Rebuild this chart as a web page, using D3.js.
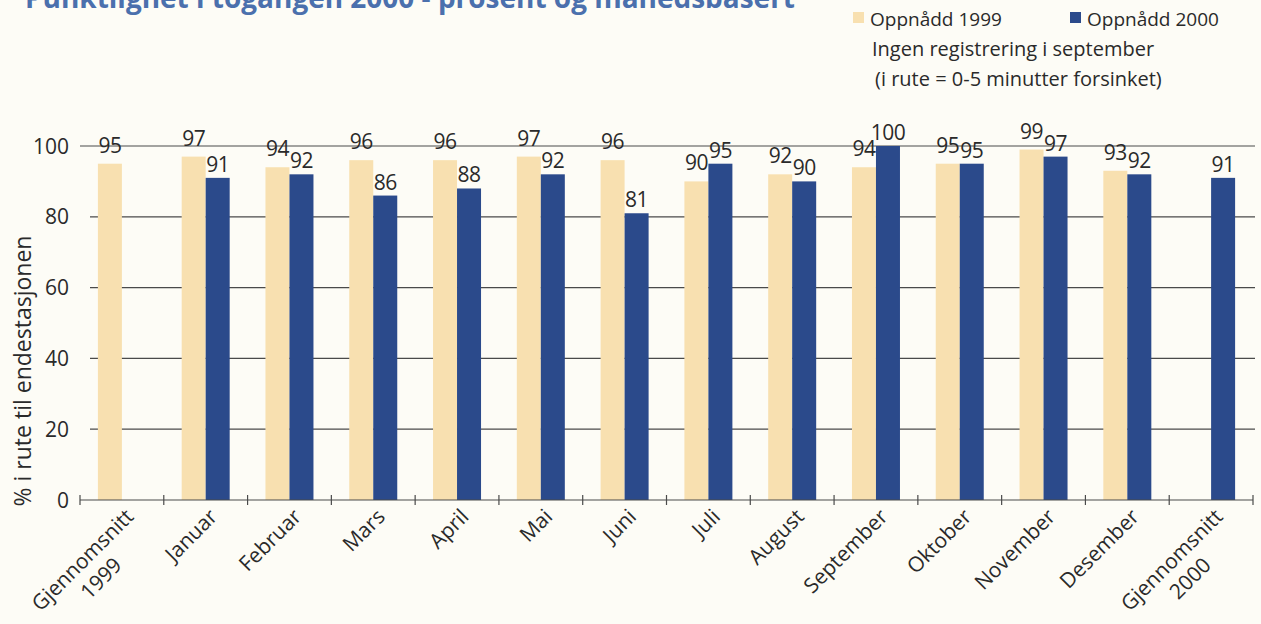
<!DOCTYPE html>
<html>
<head>
<meta charset="utf-8">
<script src="https://cdn.jsdelivr.net/npm/d3@7"></script>
<style>
  html, body { margin: 0; padding: 0; background: #fdfcf6; }
  svg { display: block; }
  text { font-family: "Open Sans", "Noto Sans", sans-serif; fill: #2a2a2a; }
</style>
</head>
<body>
<svg id="chart" width="1261" height="624"></svg>
<script>
// Punctuality per month, 1999 vs 2000 (share of trains on time at the terminal)
const categories = [
  "Gjennomsnitt\n1999", "Januar", "Februar", "Mars", "April", "Mai", "Juni",
  "Juli", "August", "September", "Oktober", "November", "Desember", "Gjennomsnitt\n2000"
];
const values1999 = [95, 97, 94, 96, 96, 97, 96, 90, 92, 94, 95, 99, 93, null];
const values2000 = [null, 91, 92, 86, 88, 92, 81, 95, 90, 100, 95, 97, 92, 91];
const yTicks = [0, 20, 40, 60, 80, 100];
const seriesNames = ["Oppnådd 1999", "Oppnådd 2000"];
const title = "Punktlighet i togangen 2000 - prosent og månedsbasert";
const yTitle = "% i rute til endestasjonen";
const noteLines = ["Ingen registrering i september", "(i rute = 0-5 minutter forsinket)"];

const colors = ["#f8e0b0", "#2b4a8b"];

const svg = d3.select("#chart");

const x = d3.scaleBand().domain(categories).range([80, 1253]).padding(0);
const y = d3.scaleLinear().domain([0, 100]).range([500, 146]);
const barW = 24;

// Title (runs off the top edge)
svg.append("text")
  .attr("x", 25).attr("y", 8)
  .attr("textLength", 770).attr("lengthAdjust", "spacingAndGlyphs")
  .style("font-size", "28px").style("font-weight", "700")
  .style("fill", "#4b70ad")
  .text(title);

// Gridlines
svg.append("g").selectAll("line")
  .data(yTicks.filter(t => t > 0))
  .join("line")
  .attr("x1", d => d === 100 ? 80 : 90)
  .attr("x2", 1255)
  .attr("y1", d => y(d)).attr("y2", d => y(d))
  .attr("stroke", "#4a4a4a").attr("stroke-width", 1.2);

// Y tick labels
svg.append("g").selectAll("text")
  .data(yTicks)
  .join("text")
  .attr("x", 69).attr("y", d => y(d))
  .attr("dy", "0.36em")
  .attr("text-anchor", "end")
  .style("font-size", "21px")
  .text(d => d);

// Y axis title
svg.append("text")
  .attr("transform", `translate(31, 371) rotate(-90)`)
  .attr("text-anchor", "middle")
  .style("font-size", "23px")
  .text(yTitle);

// Bars
const rows = categories.map((c, i) => ({ c, v: [values1999[i], values2000[i]] }));
const barData = [];
rows.forEach(r => r.v.forEach((v, s) => { if (v != null) barData.push({ c: r.c, s, v }); }));
const cx = c => x(c) + x.bandwidth() / 2;
const barX = d => d.s === 0 ? cx(d.c) - barW : cx(d.c);

svg.append("g").selectAll("rect")
  .data(barData)
  .join("rect")
  .attr("x", barX)
  .attr("y", d => y(d.v))
  .attr("width", barW)
  .attr("height", d => y(0) - y(d.v))
  .attr("fill", d => colors[d.s]);

// Value labels
svg.append("g").selectAll("text")
  .data(barData)
  .join("text")
  .attr("x", d => barX(d) + barW / 2)
  .attr("y", d => y(d.v) - (d.s === 0 ? 11 : 6))
  .attr("text-anchor", "middle")
  .style("font-size", "21px")
  .style("letter-spacing", "-0.5px")
  .text(d => d.v);

// X axis line and ticks
const xAxis = svg.append("g").attr("stroke", "#4a4a4a").attr("stroke-width", 1.2);
xAxis.append("line").attr("x1", 80).attr("x2", 1253).attr("y1", y(0)).attr("y2", y(0));
const bounds = categories.map(c => x(c)).concat([x.range()[1]]);
xAxis.selectAll(".tk").data(bounds).join("line")
  .attr("class", "tk")
  .attr("x1", d => d).attr("x2", d => d)
  .attr("y1", y(0) - 5).attr("y2", y(0) + 5);

// Category labels, rotated, lines centred within the block
const lab = svg.append("g").selectAll("g")
  .data(categories)
  .join("g")
  .attr("transform", c => `translate(${cx(c) + 13}, 518) rotate(-45)`);
lab.each(function (c) {
  const g = d3.select(this);
  const lines = c.split("\n");
  const texts = lines.map((l, i) => g.append("text")
    .attr("y", i * 26)
    .style("font-size", "21px")
    .text(l));
  const widths = texts.map(t => t.node().getComputedTextLength());
  const maxW = d3.max(widths);
  texts.forEach((t, i) => t.attr("x", -maxW + (maxW - widths[i]) / 2));
});

// Legend
const legend = svg.append("g");
const legendPos = [853, 1070];
seriesNames.forEach((n, i) => {
  legend.append("rect").attr("x", legendPos[i]).attr("y", 12)
    .attr("width", 11).attr("height", 11).attr("fill", colors[i]);
  legend.append("text").attr("x", legendPos[i] + 17).attr("y", 26)
    .style("font-size", "19px").text(n);
});
noteLines.forEach((t, i) => {
  legend.append("text").attr("x", 872 + i * 3).attr("y", 56 + i * 30)
    .style("font-size", "20px").text(t);
});
</script>
</body>
</html>
